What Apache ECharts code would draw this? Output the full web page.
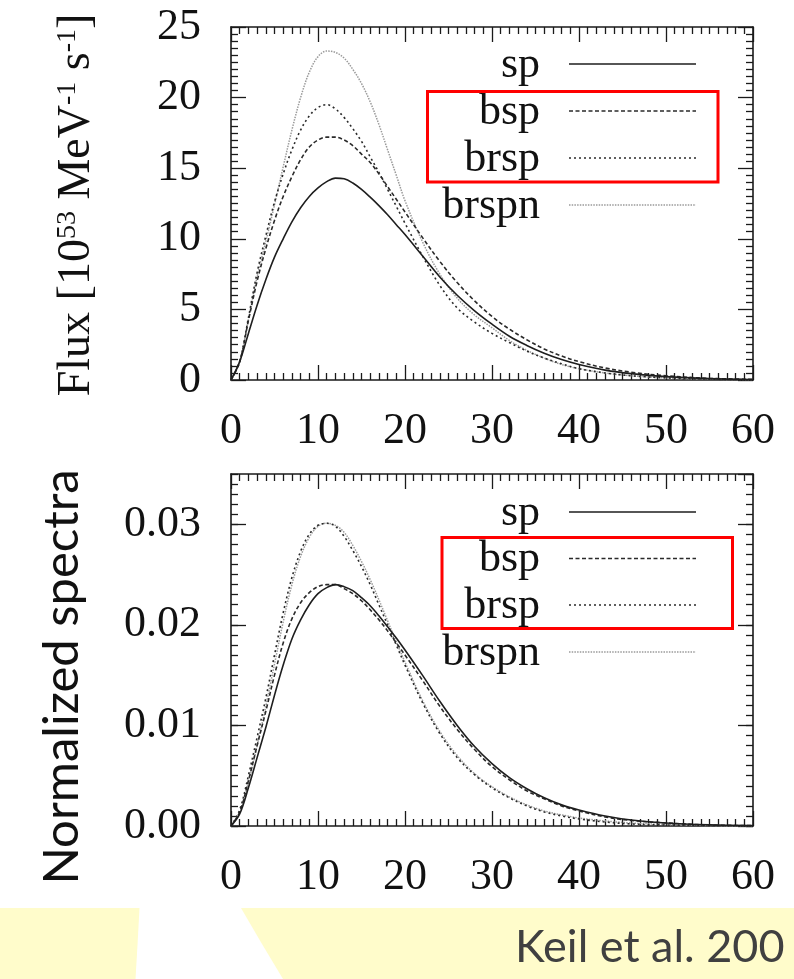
<!DOCTYPE html>
<html><head><meta charset="utf-8">
<script src="https://cdn.jsdelivr.net/npm/echarts/dist/echarts.min.js"></script>
<style>html,body{margin:0;padding:0;background:#fff}#c{width:794px;height:979px}</style>
</head><body><div id="c"></div>
<script>
// ---- data ----
const energy = [0,1,2,3,4,5,6,7,8,9,10,11,12,13,14,15,16,17,18,19,20,22,24,26,28,30,32,34,36,38,40,43,46,50,55,60];
const seriesNames = ['sp','bsp','brsp','brspn'];
const fluxSp    = [0,1.3,3.3,5.3,7.1,8.7,10.0,11.2,12.2,13.0,13.6,14.05,14.3,14.25,13.95,13.5,12.95,12.35,11.7,11.0,10.3,8.8,7.3,6.0,4.9,3.95,3.1,2.45,1.9,1.45,1.1,0.7,0.45,0.24,0.1,0.04];
const fluxBsp   = [0,1.3,4.2,7.0,9.3,11.3,13.0,14.4,15.6,16.5,17.0,17.2,17.2,17.0,16.6,16.0,15.4,14.6,13.7,12.8,11.9,10.1,8.4,6.9,5.6,4.5,3.6,2.85,2.2,1.7,1.3,0.85,0.55,0.3,0.12,0.05];
const fluxBrsp  = [0,1.3,4.4,7.6,10.2,12.6,14.6,16.3,17.7,18.7,19.3,19.5,19.2,18.6,17.8,16.9,15.8,14.7,13.5,12.3,11.1,8.8,6.7,5.1,4.1,3.3,2.65,2.05,1.55,1.15,0.8,0.5,0.3,0.15,0.06,0.02];
const fluxBrspn = [0,1.3,4.3,7.3,9.8,12.4,15.1,17.7,20.0,21.8,22.9,23.3,23.2,22.8,22.0,21.0,19.7,18.1,16.3,14.5,12.7,9.8,7.5,5.8,4.6,3.7,2.8,2.1,1.55,1.1,0.8,0.5,0.3,0.15,0.06,0.02];
const normSp    = [0,0.0012,0.0038,0.0068,0.0098,0.0130,0.0160,0.0186,0.0205,0.0220,0.0231,0.0237,0.0240,0.0238,0.0234,0.0227,0.0219,0.0209,0.0198,0.0187,0.0175,0.0150,0.0124,0.0100,0.0079,0.0062,0.0048,0.0037,0.0028,0.0021,0.0016,0.0010,0.0006,0.0003,0.00012,0.00004];
const normBsp   = [0,0.0014,0.0045,0.0080,0.0114,0.0150,0.0182,0.0206,0.0222,0.0232,0.0238,0.0240,0.0240,0.0236,0.0231,0.0224,0.0215,0.0205,0.0194,0.0182,0.0170,0.0145,0.0119,0.0096,0.0076,0.0059,0.0046,0.0035,0.0027,0.0020,0.0015,0.0009,0.00055,0.0003,0.0001,0.00004];
const normBrsp  = [0,0.0016,0.0050,0.0088,0.0127,0.0170,0.0212,0.0247,0.0273,0.0290,0.0299,0.0301,0.0298,0.0288,0.0274,0.0258,0.0240,0.0220,0.0200,0.0180,0.0160,0.0123,0.0092,0.0068,0.0051,0.0038,0.0028,0.0020,0.0014,0.0010,0.0007,0.0004,0.0002,0.0001,0.00004,0.00001];
const normBrspn = [0,0.0013,0.0043,0.0080,0.0119,0.0161,0.0203,0.0240,0.0268,0.0287,0.0298,0.0301,0.0299,0.0292,0.0279,0.0263,0.0245,0.0225,0.0204,0.0183,0.0163,0.0125,0.0094,0.0070,0.0052,0.0039,0.0029,0.0021,0.0015,0.0011,0.0008,0.0005,0.0003,0.00015,0.00005,0.00002];
const xTickLabels = ['0','10','20','30','40','50','60'];
const topYTicks = ['0','5','10','15','20','25'];
const bottomYTicks = ['0.00','0.01','0.02','0.03'];
const topTitle = 'Flux [10{sup|53} MeV{sup|-1} s{sup|-1}]';
const bottomTitle = 'Normalized spectra';
const creditText = 'Keil et al. 200';

// ---- styles ----
const INK = '#1a1a1a';
const SERIF = '"Liberation Serif","DejaVu Serif",serif';
const SANS = 'Lato, "Open Sans", sans-serif';
const lineStyles = [
  {color:'#1e1e1e', width:1.6, type:'solid'},
  {color:'#2a2a2a', width:1.6, type:[4,2.5]},
  {color:'#2a2a2a', width:1.6, type:[2,3]},
  {color:'#9a9a9a', width:1.5, type:[1.5,1.2]}
];
const axisLine = {show:true, onZero:false, lineStyle:{color:INK, width:1.6}};
const noLine = {show:false, onZero:false};
const tickStyle = {color:INK, width:1.3};
const labelStyle = {fontFamily:SERIF, fontSize:44, color:'#111'};

function xAxesFor(g){
  const base = {gridIndex:g, type:'value', min:0, max:60, interval:10,
    axisLine, splitLine:{show:false},
    axisTick:{show:true, inside:true, length:15, lineStyle:tickStyle},
    minorTick:{show:true, splitNumber:10, length:7, lineStyle:tickStyle}};
  return [
    Object.assign({}, base, {position:'bottom', axisLabel:Object.assign({margin:29, formatter:v=>xTickLabels[v/10]}, labelStyle)}),
    Object.assign({}, base, {position:'top', axisLabel:{show:false}})
  ];
}
const grids = [
  {left:231, right:41, top:27, height:353, outerBoundsMode:'none', containLabel:false},
  {left:231, right:41, top:474, height:352, outerBoundsMode:'none', containLabel:false}
];
const topY = {gridIndex:0, type:'value', min:0, max:25, interval:5, axisLine, splitLine:{show:false},
  axisTick:{show:true, inside:true, length:15, lineStyle:tickStyle},
  minorTick:{show:true, splitNumber:10, length:7, lineStyle:tickStyle}};
const botMajor = {gridIndex:1, type:'value', min:0, max:0.035, interval:0.01, axisLine, splitLine:{show:false},
  axisTick:{show:true, inside:true, length:15, lineStyle:tickStyle}};
const botMinor = {gridIndex:1, type:'value', min:0, max:0.035, interval:0.001, axisLine:noLine, splitLine:{show:false},
  axisTick:{show:true, inside:true, length:7, lineStyle:tickStyle}, axisLabel:{show:false}};

const yAxes = [
  Object.assign({}, topY, {position:'left', axisLabel:Object.assign({margin:30, formatter:v=>topYTicks[v/5]}, labelStyle)}),
  Object.assign({}, topY, {position:'right', axisLabel:{show:false}}),
  Object.assign({}, botMajor, {position:'left', axisLabel:Object.assign({margin:30, showMaxLabel:false,
      formatter:v=>{const i=Math.round(v*100); return (Math.abs(v*100-i)<1e-6 && bottomYTicks[i]) ? bottomYTicks[i] : '';}}, labelStyle)}),
  Object.assign({}, botMajor, {position:'right', axisLabel:{show:false}}),
  Object.assign({}, botMinor, {position:'left'}),
  Object.assign({}, botMinor, {position:'right'})
];
const xAxes = xAxesFor(0).concat(xAxesFor(1));

const topData = [fluxSp, fluxBsp, fluxBrsp, fluxBrspn];
const botData = [normSp, normBsp, normBrsp, normBrspn];
const series = [];
[3,2,1,0].forEach(k=>{
  series.push({name:seriesNames[k], type:'line', xAxisIndex:0, yAxisIndex:0, smooth:0.35, showSymbol:false, silent:true,
    lineStyle:lineStyles[k], data:energy.map((e,i)=>[e, topData[k][i]]), z:10-k});
  series.push({name:seriesNames[k], type:'line', xAxisIndex:2, yAxisIndex:2, smooth:0.35, showSymbol:false, silent:true,
    lineStyle:lineStyles[k], data:energy.map((e,i)=>[e, botData[k][i]]), z:10-k});
});

// legend-like keys and annotations
const graphic = [];
const YEL = '#FFFCCB';
graphic.push({type:'polygon', z:-10, shape:{points:[[0,908],[139.5,908],[137.5,945],[135.5,979],[0,979]]}, style:{fill:YEL}});
graphic.push({type:'polygon', z:-10, shape:{points:[[241,908],[794,908],[794,979],[283,979],[262,944]]}, style:{fill:YEL}});
const legendRows = [[64,111,158,205],[512,558.5,605,652]];
legendRows.forEach(rows=>{
  rows.forEach((y,k)=>{
    graphic.push({type:'text', z:50, x:540, y:y+1, style:{text:seriesNames[k], fontFamily:SERIF, fontSize:44, fill:'#111', align:'right', verticalAlign:'middle'}});
    graphic.push({type:'line', z:50, shape:{x1:569, y1:y, x2:696, y2:y},
      style:{stroke:lineStyles[k].color, lineWidth:lineStyles[k].width, lineDash:lineStyles[k].type==='solid'?null:lineStyles[k].type}});
  });
});
graphic.push({type:'rect', z:60, shape:{x:427.5, y:91.5, width:290.5, height:90.5}, style:{fill:null, stroke:'#ff0000', lineWidth:3}});
graphic.push({type:'rect', z:60, shape:{x:442, y:537.5, width:290.5, height:91}, style:{fill:null, stroke:'#ff0000', lineWidth:3}});
graphic.push({type:'text', z:50, x:77, y:205, rotation:Math.PI/2, style:{text:topTitle, fontFamily:SERIF, fontSize:46, fill:'#111', align:'center', verticalAlign:'middle',
  rich:{sup:{fontFamily:SERIF, fontSize:28, fill:'#111', verticalAlign:'top', lineHeight:46}}}});
graphic.push({type:'text', z:50, x:62, y:677, rotation:Math.PI/2, style:{text:bottomTitle, fontFamily:SANS, fontSize:49, fill:'#111', align:'center', verticalAlign:'middle'}});
graphic.push({type:'text', z:50, x:515, y:947, style:{text:creditText, fontFamily:SANS, fontSize:45, fill:'#404040', align:'left', verticalAlign:'middle'}});

const chart = echarts.init(document.getElementById('c'), null, {renderer:'canvas'});
chart.setOption({
  animation:false,
  backgroundColor:'#ffffff',
  grid:grids, xAxis:xAxes, yAxis:yAxes, series, graphic
});
</script></body></html>
